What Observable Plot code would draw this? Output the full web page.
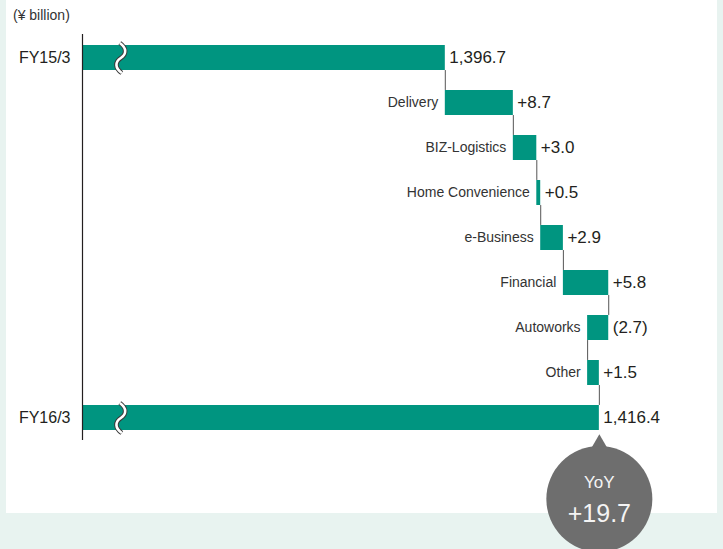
<!DOCTYPE html>
<html>
<head>
<meta charset="utf-8">
<script src="https://cdn.jsdelivr.net/npm/d3@7"></script>
<script src="https://cdn.jsdelivr.net/npm/@observablehq/plot@0.6"></script>
<style>
  html, body { margin: 0; padding: 0; }
  body { width: 723px; height: 549px; background: #e8f3f0; position: relative; overflow: hidden;
         font-family: "Liberation Sans", Arial, Helvetica, sans-serif; }
  #panel { position: absolute; left: 6px; top: 0; width: 711px; height: 513px; background: #ffffff; }
  #unit { position: absolute; left: 13px; top: 7px; font-size: 14px; color: #333; }
  #chart { position: absolute; left: 0; top: 0; }
  #chart svg { background: transparent; overflow: visible; }
</style>
</head>
<body>
<div id="panel"></div>
<div id="unit">(¥ billion)</div>
<div id="chart"></div>
<script>
// ---- data ----
const categories = ["FY15/3", "Delivery", "BIZ-Logistics", "Home Convenience", "e-Business", "Financial", "Autoworks", "Other", "FY16/3"];
const startTotal = 1396.7;
const endTotal = 1416.4;
const changes = [8.7, 3.0, 0.5, 2.9, 5.8, -2.7, 1.5];
const valueLabels = ["1,396.7", "+8.7", "+3.0", "+0.5", "+2.9", "+5.8", "(2.7)", "+1.5", "1,416.4"];
const yoyTitle = "YoY";
const yoyValue = "+19.7";
const axisStart = 1350.3;   // broken-axis origin
const breakAt = 1355.2;     // where the break marks sit
const axisEnd = 1420;

// ---- build rows ----
const rows = [];
rows.push({cat: categories[0], x1: axisStart, x2: startTotal, label: valueLabels[0], total: true});
let cum = startTotal;
changes.forEach((c, i) => {
  rows.push({cat: categories[i + 1], x1: cum, x2: cum + c, label: valueLabels[i + 1], total: false});
  cum += c;
});
rows.push({cat: categories[8], x1: axisStart, x2: endTotal, label: valueLabels[8], total: true});

// connectors between consecutive rows at the running total
const connectors = [];
for (let i = 0; i < rows.length - 1; i++) {
  const r = rows[i];
  const xv = r.total ? r.x2 : r.x2;
  connectors.push({from: r.cat, to: rows[i + 1].cat, x: xv});
}

const W = 723, H = 549, mt = 34, mb = 109, ml = 82, mr = 96;
const pi = 0.445, po = pi / 2;
const step = (H - mt - mb) / (categories.length - pi + 2 * po);
const bw = step * (1 - pi);

const squiggle = {
  draw(ctx) {
    ctx.moveTo(-1, -15);
    ctx.bezierCurveTo(6, -10, 6, -4, 0, 0);
    ctx.bezierCurveTo(-6, 4, -6, 10, 1, 15);
  }
};

const teal = "#009580";
const totals = rows.filter(d => d.total);
const lastRow = rows[rows.length - 1];

const plot = Plot.plot({
  width: W, height: H,
  marginTop: mt, marginBottom: mb, marginLeft: ml, marginRight: mr,
  style: {fontFamily: '"Liberation Sans", Arial, Helvetica, sans-serif', background: "transparent", overflow: "visible"},
  x: {domain: [axisStart, axisEnd], axis: null},
  y: {domain: categories, paddingInner: pi, paddingOuter: po, axis: null},
  marks: [
    Plot.ruleX(connectors, {x: "x", y1: "from", y2: "to", insetTop: bw, insetBottom: bw, stroke: "#555", strokeWidth: 1}),
    Plot.barX(rows, {x1: "x1", x2: "x2", y: "cat", fill: teal}),
    Plot.ruleX([axisStart], {stroke: "#231f20", strokeWidth: 1.2}),
    // break marks
    Plot.dot(totals, {x: () => breakAt, y: "cat", symbol: squiggle, r: 5, fill: "none", stroke: "#3a3a3a", strokeWidth: 4.6}),
    Plot.dot(totals, {x: () => breakAt, y: "cat", symbol: squiggle, r: 5, fill: "none", stroke: "#ffffff", strokeWidth: 2.6}),
    // total labels on axis
    Plot.text(totals, {x: () => axisStart, y: "cat", text: "cat", textAnchor: "end", dx: -12, fontSize: 16, fill: "#231f20"}),
    // category labels
    Plot.text(rows.filter(d => !d.total), {x: d => Math.min(d.x1, d.x2), y: "cat", text: "cat", textAnchor: "end", dx: -7, fontSize: 14, fill: "#333333"}),
    // value labels
    Plot.text(rows, {x: d => Math.max(d.x1, d.x2), y: "cat", text: "label", textAnchor: "start", dx: 4, fontSize: 17, fill: "#231f20"}),
    // YoY bubble
    Plot.dot([lastRow], {x: "x2", y: "cat", dy: 27.5, symbol: "triangle", r: 7.3, fill: "#6e6e6e"}),
    Plot.dot([lastRow], {x: "x2", y: "cat", dy: 81, r: 53, fill: "#6e6e6e"}),
    Plot.text([lastRow], {x: "x2", y: "cat", dy: 65, text: () => yoyTitle, fontSize: 17, fill: "#f4f4f4"}),
    Plot.text([lastRow], {x: "x2", y: "cat", dy: 96, text: () => yoyValue, fontSize: 25, fill: "#f4f4f4"})
  ]
});
document.getElementById("chart").appendChild(plot);
</script>
</body>
</html>
